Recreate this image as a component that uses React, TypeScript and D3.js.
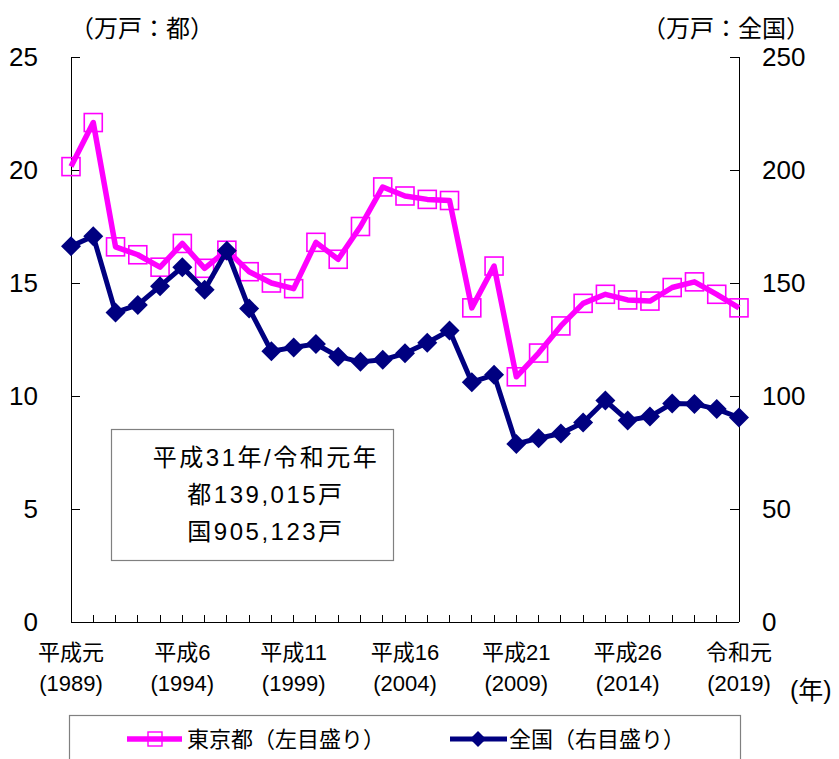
import { useEffect, useRef } from 'react'
import * as d3 from 'd3'

// 新設住宅着工戸数（万戸）
const years = d3.range(1989, 2020)
const tokyo = [20.15, 22.1, 16.6, 16.25, 15.7, 16.75, 15.65, 16.45, 15.5, 15.0, 14.75, 16.8, 16.05, 17.5, 19.25, 18.85, 18.7, 18.65, 13.9, 15.75, 10.85, 11.9, 13.1, 14.1, 14.5, 14.25, 14.2, 14.8, 15.05, 14.5, 13.9]
const national = [166.3, 170.7, 137.0, 140.3, 148.6, 157.0, 147.0, 164.3, 138.7, 119.8, 121.5, 123.0, 117.4, 115.1, 116.0, 118.9, 123.6, 129.0, 106.1, 109.4, 78.8, 81.3, 83.4, 88.3, 98.0, 89.2, 90.9, 96.7, 96.5, 94.2, 90.5]
const labelYears = [1989, 1994, 1999, 2004, 2009, 2014, 2019]
const eraLabels = ['平成元', '平成6', '平成11', '平成16', '平成21', '平成26', '令和元']
const leftTicks = [0, 5, 10, 15, 20, 25]
const rightTicks = [0, 50, 100, 150, 200, 250]
const noteLines = ['平成31年/令和元年', '都139,015戸', '国905,123戸']
const legendNames = ['東京都（左目盛り）', '全国（右目盛り）']

const W = 839
const H = 759
const FONT = '"Liberation Sans", "Noto Sans CJK JP", sans-serif'
const PINK = '#ff00ff'
const NAVY = '#000080'

export default function App() {
  const ref = useRef<SVGSVGElement | null>(null)
  useEffect(() => {
    const svg = d3.select(ref.current)
    svg.selectAll('*').remove()
    svg.attr('width', W).attr('height', H).style('font-family', FONT)

    const left = 71, right = 739, top = 57, bottom = 622
    const x = d3.scaleLinear().domain([1989, 2019]).range([left, right])
    const yL = d3.scaleLinear().domain([0, 25]).range([bottom, top])
    const yR = d3.scaleLinear().domain([0, 250]).range([bottom, top])

    // axes lines
    const ax = svg.append('g').attr('stroke', '#000').attr('stroke-width', 1).attr('shape-rendering', 'crispEdges')
    ax.append('line').attr('x1', left).attr('x2', left).attr('y1', top).attr('y2', bottom)
    ax.append('line').attr('x1', right).attr('x2', right).attr('y1', top).attr('y2', bottom)
    ax.append('line').attr('x1', left).attr('x2', right).attr('y1', bottom).attr('y2', bottom)
    ax.selectAll(null).data(leftTicks).enter().append('line')
      .attr('x1', left).attr('x2', left + 9).attr('y1', (d: number) => yL(d)).attr('y2', (d: number) => yL(d))
    ax.selectAll(null).data(rightTicks).enter().append('line')
      .attr('x1', right - 9).attr('x2', right).attr('y1', (d: number) => yR(d)).attr('y2', (d: number) => yR(d))
    ax.selectAll(null).data(years).enter().append('line')
      .attr('x1', (d: number) => x(d)).attr('x2', (d: number) => x(d)).attr('y1', bottom - 7).attr('y2', bottom)

    // tick labels
    svg.append('g').selectAll('text').data(leftTicks).enter().append('text')
      .attr('x', 38).attr('y', (d: number) => yL(d)).attr('dy', '0.36em')
      .attr('text-anchor', 'end').attr('font-size', 26).text((d: number) => String(d))
    svg.append('g').selectAll('text').data(rightTicks).enter().append('text')
      .attr('x', 762).attr('y', (d: number) => yR(d)).attr('dy', '0.36em')
      .attr('font-size', 26).text((d: number) => String(d))

    svg.append('text').attr('x', 70).attr('y', 37).attr('font-size', 24).text('（万戸：都）')
    svg.append('text').attr('x', 810).attr('y', 37).attr('font-size', 24).attr('text-anchor', 'end').text('（万戸：全国）')

    const xl = svg.append('g').attr('text-anchor', 'middle').attr('font-size', 22)
    labelYears.forEach((yr, i) => {
      xl.append('text').attr('x', x(yr)).attr('y', 660).text(eraLabels[i])
      xl.append('text').attr('x', x(yr)).attr('y', 691).text(`(${yr})`)
    })
    svg.append('text').attr('x', 790).attr('y', 699).attr('font-size', 25).text('(年)')

    // note box
    svg.append('rect').attr('x', 111.5).attr('y', 429.5).attr('width', 282).attr('height', 131)
      .attr('fill', '#fff').attr('stroke', '#808080').attr('stroke-width', 1.2)
    svg.append('g').attr('text-anchor', 'middle').attr('font-size', 24).attr('letter-spacing', 2.5)
      .selectAll('text').data(noteLines).enter().append('text')
      .attr('x', 266).attr('y', (_d: string, i: number) => 466 + i * 37).text((d: string) => d)

    // series
    const lineGen = (sc: d3.ScaleLinear<number, number>) =>
      d3.line<number>().x((_d: number, i: number) => x(years[i])).y((d: number) => sc(d))

    svg.append('path').datum(tokyo).attr('fill', 'none').attr('stroke', PINK)
      .attr('stroke-width', 5.5).attr('stroke-linejoin', 'round').attr('d', lineGen(yL) as any)
    svg.append('g').selectAll('rect').data(tokyo).enter().append('rect')
      .attr('x', (_d: number, i: number) => x(years[i]) - 9).attr('y', (d: number) => yL(d) - 9)
      .attr('width', 18).attr('height', 18).attr('fill', 'none').attr('stroke', PINK).attr('stroke-width', 1.6)

    svg.append('path').datum(national).attr('fill', 'none').attr('stroke', NAVY)
      .attr('stroke-width', 5).attr('stroke-linejoin', 'round').attr('d', lineGen(yR) as any)
    const diamond = (cx: number, cy: number, r: number) => `M${cx},${cy - r}L${cx + r},${cy}L${cx},${cy + r}L${cx - r},${cy}Z`
    svg.append('g').selectAll('path').data(national).enter().append('path')
      .attr('d', (d: number, i: number) => diamond(x(years[i]), yR(d), 10)).attr('fill', NAVY)

    // legend
    const lg = svg.append('g')
    lg.append('rect').attr('x', 69.5).attr('y', 715.5).attr('width', 671).attr('height', 70)
      .attr('fill', '#fff').attr('stroke', '#808080').attr('stroke-width', 1.2)
    const ly = 739
    lg.append('line').attr('x1', 127).attr('x2', 182).attr('y1', ly).attr('y2', ly).attr('stroke', PINK).attr('stroke-width', 5.5)
    lg.append('rect').attr('x', 148).attr('y', ly - 7).attr('width', 14).attr('height', 14)
      .attr('fill', 'none').attr('stroke', PINK).attr('stroke-width', 1.4)
    lg.append('text').attr('x', 187).attr('y', ly).attr('dy', '0.36em').attr('font-size', 22).text(legendNames[0])
    lg.append('line').attr('x1', 450).attr('x2', 507).attr('y1', ly).attr('y2', ly).attr('stroke', NAVY).attr('stroke-width', 5)
    lg.append('path').attr('d', diamond(478, ly, 8)).attr('fill', NAVY)
    lg.append('text').attr('x', 509).attr('y', ly).attr('dy', '0.36em').attr('font-size', 22).text(legendNames[1])
  }, [])
  return <svg ref={ref} style={{ position: 'absolute', left: 0, top: 0 }} />
}
